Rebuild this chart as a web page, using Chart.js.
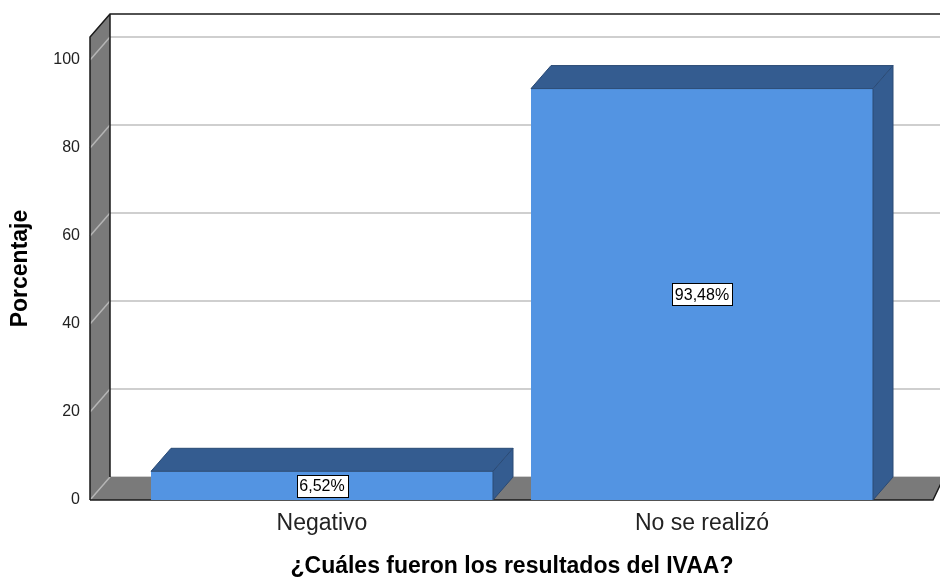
<!DOCTYPE html>
<html>
<head>
<meta charset="utf-8">
<script src="https://cdn.jsdelivr.net/npm/chart.js@4"></script>
<style>
  html, body { margin: 0; padding: 0; background: #fff; }
  #wrap { width: 940px; height: 583px; }
</style>
</head>
<body>
<div id="wrap"><canvas id="ivaaChart" width="940" height="583"></canvas></div>
<script>
// --- data ---
const categories = ['Negativo', 'No se realizó'];
const percentages = [6.52, 93.48];
const valueLabels = ['6,52%', '93,48%'];
const yTicks = [0, 20, 40, 60, 80, 100];

// --- 3D look ---
const DX = 20;        // depth offset to the right
const DY = 23;        // depth offset upwards
const WALL_GAP = 42;  // distance from front wall to plot start
const FRONT = '#5394e2';
const DARK = '#345c90';
const GRAY = '#7a7a7a';
const FONT = '"Liberation Sans", Arial, sans-serif';

const depthPlugin = {
  id: 'depth',
  beforeDatasetsDraw(chart) {
    const { ctx, chartArea, scales: { y } } = chart;
    const wx = chartArea.left - WALL_GAP;
    const top = chartArea.top, bottom = chartArea.bottom;
    const right = chart.width;
    ctx.save();

    // back plane grid lines
    ctx.strokeStyle = '#cfcfcf';
    ctx.lineWidth = 2;
    yTicks.forEach(v => {
      const py = y.getPixelForValue(v);
      ctx.beginPath();
      ctx.moveTo(wx + DX, py - DY);
      ctx.lineTo(right, py - DY);
      ctx.stroke();
    });

    // side wall
    ctx.fillStyle = GRAY;
    ctx.beginPath();
    ctx.moveTo(wx, top);
    ctx.lineTo(wx + DX, top - DY);
    ctx.lineTo(wx + DX, bottom - DY);
    ctx.lineTo(wx, bottom);
    ctx.closePath();
    ctx.fill();

    // floor
    ctx.beginPath();
    ctx.moveTo(wx, bottom);
    ctx.lineTo(wx + DX, bottom - DY);
    ctx.lineTo(right + 4, bottom - DY);
    ctx.lineTo(right - 7, bottom);
    ctx.closePath();
    ctx.fill();

    // grid lines across the wall
    ctx.strokeStyle = '#b5b5b5';
    ctx.lineWidth = 1.5;
    yTicks.forEach(v => {
      const py = y.getPixelForValue(v);
      ctx.beginPath();
      ctx.moveTo(wx, py);
      ctx.lineTo(wx + DX, py - DY);
      ctx.stroke();
    });

    // frame
    ctx.strokeStyle = '#1a1a1a';
    ctx.lineWidth = 1.5;
    ctx.beginPath();
    ctx.moveTo(wx, bottom);
    ctx.lineTo(wx, top);
    ctx.lineTo(wx + DX, top - DY);
    ctx.lineTo(right, top - DY);
    ctx.moveTo(wx + DX, top - DY);
    ctx.lineTo(wx + DX, bottom - DY);
    ctx.stroke();
    ctx.beginPath();
    ctx.moveTo(wx, bottom);
    ctx.lineTo(right - 7, bottom);
    ctx.lineTo(right + 4, bottom - DY);
    ctx.stroke();
    ctx.restore();
  },
  afterDatasetsDraw(chart) {
    const { ctx } = chart;
    const meta = chart.getDatasetMeta(0);
    ctx.save();
    meta.data.forEach((bar, i) => {
      const x0 = bar.x - bar.width / 2, x1 = bar.x + bar.width / 2;
      const t = bar.y, b = bar.base;
      ctx.fillStyle = DARK;
      ctx.strokeStyle = '#2a4a75';
      ctx.lineWidth = 1;
      // top face
      ctx.beginPath();
      ctx.moveTo(x0, t);
      ctx.lineTo(x0 + DX, t - DY);
      ctx.lineTo(x1 + DX, t - DY);
      ctx.lineTo(x1, t);
      ctx.closePath();
      ctx.fill();
      ctx.stroke();
      // side face
      ctx.beginPath();
      ctx.moveTo(x1, t);
      ctx.lineTo(x1 + DX, t - DY);
      ctx.lineTo(x1 + DX, b - DY);
      ctx.lineTo(x1, b);
      ctx.closePath();
      ctx.fill();
      ctx.stroke();

      // value label box
      ctx.font = '16px ' + FONT;
      const txt = valueLabels[i];
      const w = Math.round(ctx.measureText(txt).width + 6);
      const h = 22;
      const cy = (t + b) / 2;
      const bx = Math.round(bar.x - w / 2) + 0.5, by = Math.round(cy - h / 2) + 0.5;
      ctx.fillStyle = '#fff';
      ctx.fillRect(bx, by, w, h);
      ctx.strokeStyle = '#000';
      ctx.strokeRect(bx, by, w, h);
      ctx.fillStyle = '#000';
      ctx.textAlign = 'center';
      ctx.textBaseline = 'middle';
      ctx.fillText(txt, bar.x, cy + 1);
    });
    ctx.restore();
  }
};

new Chart(document.getElementById('ivaaChart'), {
  type: 'bar',
  data: {
    labels: categories,
    datasets: [{
      data: percentages,
      backgroundColor: FRONT,
      borderWidth: 0,
      barPercentage: 0.9,
      categoryPercentage: 1.0
    }]
  },
  options: {
    responsive: false,
    animation: false,
    layout: { padding: { top: 37, right: 48, left: 0, bottom: 0 } },
    plugins: { legend: { display: false }, tooltip: { enabled: false } },
    scales: {
      x: {
        grid: { display: false, drawTicks: false },
        border: { display: false },
        ticks: { color: '#222', padding: 10, font: { size: 23, family: FONT } },
        title: {
          display: true,
          text: '¿Cuáles fueron los resultados del IVAA?',
          color: '#000',
          font: { size: 23, weight: 'bold', family: FONT },
          padding: { top: 0, bottom: 3 }
        },
        afterFit(scale) { scale.height = 83; }
      },
      y: {
        min: 0,
        max: 105.2,
        grid: { display: false, drawTicks: false },
        border: { display: false },
        ticks: {
          stepSize: 20,
          includeBounds: false,
          color: '#222',
          padding: 52,
          font: { size: 16, family: FONT }
        },
        title: {
          display: true,
          text: 'Porcentaje',
          color: '#000',
          font: { size: 23, weight: 'bold', family: FONT },
          padding: { top: 7, bottom: 0 }
        },
        afterFit(scale) {
          scale.width = 132;
          scale.paddingTop = 0;
          scale.paddingBottom = 0;
        }
      }
    }
  },
  plugins: [depthPlugin]
});
</script>
</body>
</html>
